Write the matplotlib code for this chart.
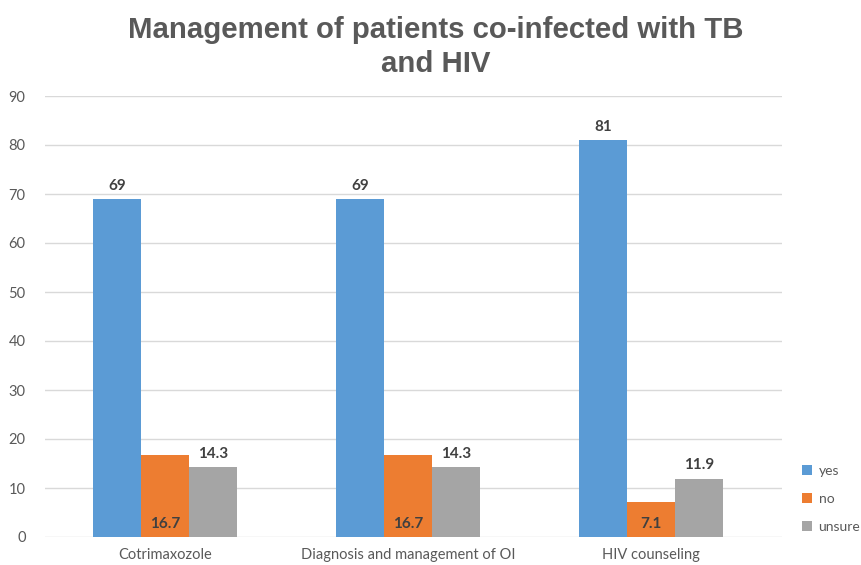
import matplotlib
matplotlib.use("Agg")
import matplotlib.pyplot as plt
import numpy as np

categories = ["Cotrimaxozole", "Diagnosis and management of OI", "HIV counseling"]
series_names = ["yes", "no", "unsure"]
yes_vals = [69, 69, 81]
no_vals = [16.7, 16.7, 7.1]
unsure_vals = [14.3, 14.3, 11.9]
yticks = [0, 10, 20, 30, 40, 50, 60, 70, 80, 90]

colors = ["#5B9BD5", "#ED7D31", "#A5A5A5"]
tick_color = "#595959"
FONT = "Lato"

fig = plt.figure(figsize=(8.62, 5.65), dpi=100)
ax = fig.add_axes([45/862, 1-537/565, (782-45)/862, (537-96)/565])

x = np.arange(len(categories))
w = 0.197
data = [yes_vals, no_vals, unsure_vals]
for i, (name, vals, c) in enumerate(zip(series_names, data, colors)):
    bars = ax.bar(x + (i-1)*w, vals, w, color=c, label=name, zorder=3)
    for b, v in zip(bars, vals):
        yy = 1.2 if i == 1 else v + 1.3
        ax.text(b.get_x()+b.get_width()/2, yy, f"{v:g}", ha="center", va="bottom",
                fontsize=11, fontweight="bold", color="#404040", family=FONT, zorder=4)

ax.set_xlim(-0.494, 2.539)
ax.set_ylim(0, 90)
ax.set_yticks(yticks)
ax.set_xticks(x)
ax.set_xticklabels(categories)
ax.yaxis.grid(True, color="#D9D9D9", linewidth=1, zorder=0)
for s in ax.spines.values():
    s.set_visible(False)
ax.tick_params(axis="both", length=0, colors=tick_color, labelsize=10.5)
for lab in ax.get_xticklabels() + ax.get_yticklabels():
    lab.set_family(FONT)
ax.tick_params(axis="y", pad=14)
ax.tick_params(axis="x", pad=8)

leg = ax.legend(loc="center left", bbox_to_anchor=(1.027, 0.087), frameon=False,
                prop={"family": FONT, "size": 10}, handlelength=0.75, handleheight=0.75,
                labelspacing=1.15, handletextpad=0.45, labelcolor=tick_color, borderaxespad=0,
                borderpad=0)

fig.text(0.505, 1-47/565, "Management of patients co-infected with TB\nand HIV", ha="center", va="center",
         fontsize=21.2, fontweight="bold", color="#595959", family="Liberation Sans", linespacing=1.25)

fig.savefig("out.png", dpi=100)
